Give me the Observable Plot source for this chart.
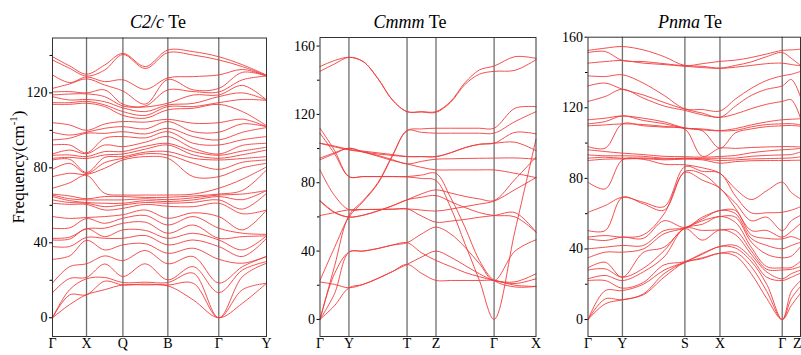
<!DOCTYPE html>
<html><head><meta charset="utf-8">
<script src="https://cdn.jsdelivr.net/npm/d3@7"></script>
<script src="https://cdn.jsdelivr.net/npm/@observablehq/plot@0.6"></script>
<style>
body{margin:0;background:#fff;}
#wrap{position:relative;width:801px;height:355px;font-family:"Liberation Serif","Times New Roman",serif;color:#000;overflow:hidden;}
.panel{position:absolute;top:0;}
.title{position:absolute;top:11px;line-height:22px;font-size:18px;white-space:nowrap;transform:translateX(-50%);}
.ylab{position:absolute;left:18px;top:167px;transform:translate(-50%,-50%) rotate(-90deg);font-size:17px;white-space:nowrap;}
sup{font-size:11px;}
</style></head>
<body>
<div id="wrap">
  <div class="title" style="left:158px"><i>C2/c</i> Te</div>
  <div class="title" style="left:410px"><i>Cmmm</i> Te</div>
  <div class="title" style="left:690px"><i>Pnma</i> Te</div>
  <div class="ylab">Frequency(cm<sup>-1</sup>)</div>
</div>
<script>
// ---------- Panel 1: C2/c Te (frequencies read at each path position, low to high) ----------
const p1Ticks = [0, 0.159, 0.329, 0.539, 0.777, 1];
const p1Labels = ["Γ", "X", "Q", "B", "Γ", "Y"];
const p1Pos = [0, 0.08, 0.159, 0.244, 0.329, 0.434, 0.539, 0.658, 0.777, 0.888, 1];
const p1Gamma = [0,0,0,13.4,18.5,31.2,38,41.5,42.4,47.8,54,61.1,62.9,64.7,65.5,66,69.1,75.3,79.2,84.2,85.1,86.7,87.4,92.2,94.9,99,104.1,113.9,114.8,118,118.9,120.5,122.4,129.6,137.6,139.3];
const p1GX = [7,12.2,15,21,27.3,33,38,42,43,48,53,60.5,61.5,62.5,63.5,65,72,77.1,82.4,84.6,85.6,86.9,89.5,92.2,95.8,97.5,102.9,113.9,114.8,116.2,119.4,120.7,124.8,125.5,133.1,134.4];
const p1X = [12.3,12.3,20.8,21.5,28.8,41.3,42.9,47.5,47.5,52.9,53.5,60.5,61.1,61.5,62.9,63.5,76,76.5,77,77.5,85,86,87.5,88,98.5,99,100,114.5,115.5,116.5,119.5,120,127.5,128.5,129,130];
const p1XQ = [15,19.5,21.5,28.7,33,36.2,42.4,43.3,47.8,50.4,54,57.5,59.3,61.1,62.9,64.7,66.4,79.8,82.8,85.6,86.9,88.7,92.2,95.8,98.4,101.1,103.4,112.7,113.6,115.3,118,121.6,124.2,126,132.2,134.9];
const p1Q = [17.5,17.5,18.8,22,30.5,38.9,42.4,46.9,50.4,53.1,55,58.4,60.2,61.1,62.9,64.7,65.5,84.2,85.1,86,87.4,88.7,91.3,96.7,99.3,102,104.7,108,110,112,113,114,121,127,140.5,141.1];
const p1QB = [17.5,18,19,28.8,35.9,39.5,43.9,46.6,51,54.6,57.5,60.5,61.5,62.5,63.5,64.2,65.5,86,87.5,88.4,90,91.5,93.7,96,98.1,100.8,104.4,106.5,108,110,112.5,113,114,121.9,133,134];
const p1B = [17,17.5,18.8,20.2,28.8,34.4,38.9,42.4,45.1,49.5,53.1,59.5,61.1,62,63,64.3,65.5,85.1,86.9,88.7,92.2,93.1,96.7,99.3,101.1,104.7,105.9,111,112.7,113.6,114.5,121.6,127.2,128,141.5,142.9];
const p1BG = [9.5,18.4,23.8,27.3,32.7,37.1,41.5,45.1,49.5,54,56,59.3,61.6,62.9,64,65,66,75.3,82.4,85.1,86.9,88.7,90.4,93.1,96.7,99.3,103.8,111.8,112.7,114.4,118.9,120.7,121.6,128.7,140.2,142];
const p1GY = [7.8,15,22,25.5,27.3,29.1,32.7,36.2,43.3,45.1,46.9,55.5,58,63,66,68,74,80,83,85,87,89,92,95,99,103.5,106,110,116.5,120,124,127,131,132.5,134,135];
const p1Y = [18.4,18.4,29.1,30,32.7,32.7,42.4,43.7,43.7,44.5,57.5,57.5,66.4,67.9,67.9,78.9,80.5,82.4,84.2,86,89.5,91,93.1,96.7,101.5,102,102,102.5,116,116.2,116.2,129,129,129,129.3,129.5];
const p1Cols = [p1Gamma, p1GX, p1X, p1XQ, p1Q, p1QB, p1B, p1BG, p1Gamma, p1GY, p1Y];

// ---------- Panel 2: Cmmm Te (one array per band) ----------
const p2Ticks = [0, 0.134, 0.403, 0.537, 0.806, 1];
const p2Labels = ["Γ", "Y", "T", "Z", "Γ", "X"];
const p2Pos = [0, 0.067, 0.134, 0.2, 0.268, 0.335, 0.403, 0.47, 0.537, 0.604, 0.671, 0.738, 0.806, 0.903, 1];
const p2Bands = [
  [148, 151.5, 153.4, 150.9, 141, 128.5, 121.6, 121.6, 121.6, 127.5, 138.5, 146, 148.3, 153.8, 152.8],
  [145.2, 149.5, 153.4, 150.9, 141, 128.5, 121.6, 121.4, 121.2, 127, 137.5, 143.5, 145.2, 145.8, 152],
  [111.9, 99, 83.6, 83.6, 83.6, 83.6, 83.6, 84.5, 85.5, 71.5, 54, 34.5, 22.8, 19, 19.3],
  [109, 97, 83.6, 83.6, 83.6, 83.6, 83.4, 82.5, 81.3, 65.7, 44.3, 22.8, 0, 52, 105.5],
  [103.1, 101.5, 99.5, 98.5, 97.5, 96.5, 95.3, 95.3, 95.3, 97.5, 100.5, 102.5, 103.1, 109.5, 108.6],
  [103.1, 101, 99.2, 98, 96.8, 96, 95.3, 95.3, 95.3, 97.5, 100.5, 102.5, 103.1, 103.7, 98.8],
  [94.4, 97.5, 100.2, 98, 96, 93.5, 91, 92.5, 93.8, 94, 94.2, 94.3, 94.4, 94.5, 93.8],
  [93.4, 97, 100.2, 98, 95.5, 93, 91, 89, 87.5, 87.5, 87.5, 87.5, 87.5, 85.5, 83],
  [87.5, 72.5, 64.2, 64.3, 64.4, 64.5, 64.7, 64, 63.4, 64.5, 66, 67.5, 69.2, 76, 83],
  [69.6, 62.8, 59.9, 61, 63.5, 66.5, 70, 73.5, 75.8, 74, 72, 70.5, 69.6, 82, 95],
  [69.2, 62.5, 59.9, 61, 63.5, 66.5, 70, 71.5, 72.5, 69, 65.5, 62.5, 60.8, 60, 51.1],
  [60.8, 62.5, 64.2, 64.3, 64.4, 64.5, 64.7, 60.5, 56.9, 57.5, 58.5, 59.8, 60.8, 62.5, 51.1],
  [0, 31, 60.8, 69.6, 80, 96, 110.5, 111.5, 111.9, 111.9, 111.9, 111.9, 111.9, 123.6, 124.5],
  [22.8, 42, 59.9, 69, 79.5, 95.5, 110.5, 109.5, 109, 109, 109, 109, 109, 115.8, 121.6],
  [0, 26.7, 39.4, 40, 41.5, 43.5, 44.9, 50, 54, 50.1, 42.3, 32.6, 22.8, 40, 46.6],
  [21.9, 20.5, 18.5, 20.5, 24, 28, 32.2, 36.5, 40, 36.5, 31.6, 26.7, 22.8, 22, 26.7],
  [0, 8, 18.5, 20.5, 24, 28, 32.2, 27, 22.8, 22.8, 22.8, 22.8, 22.8, 20, 19.3],
  [0, 15, 39.4, 40, 41.5, 43.5, 44.9, 39, 34.5, 31, 27.5, 25, 22.8, 21, 23.8]
];

// ---------- Panel 3: Pnma Te (frequencies read at each path position, low to high) ----------
const p3Ticks = [0, 0.162, 0.456, 0.621, 0.914, 1];
const p3Labels = ["Γ", "Y", "S", "X", "Γ", "Z"];
const p3Pos = [0, 0.081, 0.162, 0.26, 0.358, 0.456, 0.538, 0.621, 0.694, 0.768, 0.841, 0.914, 0.957, 1];
const p3Gamma = [0,0,0,22.1,23.1,28.1,29.3,35,40.1,45.7,46.7,50.4,60.8,77.8,90.1,91.4,93.3,96.2,98,109.8,110.9,113.2,123.6,132.4,138.1,145.3,151.3,152.5];
const p3GY = [8.9,11.7,16.4,22.1,25,28.7,32.5,38.2,41,44.8,47.6,50.4,64.6,74,90.9,92,92.8,95.2,97.1,110.3,112.2,114.1,126.4,134,137.7,146.2,151.9,153.8];
const p3Y = [11.2,11.2,16.4,17.8,22.1,24,24,38.2,42,46.7,46.7,69.3,69.3,90.5,91,91.4,92.8,94.3,110.9,110.9,115.4,115.4,130.5,130.5,138.7,146.8,146.8,154.7];
const p3YS1 = [14,14.5,20,21,27,29,38,40,42,46,48,65.6,66.5,90.8,91.2,91.6,92.5,93.5,109.8,110.5,112.8,114.1,125.5,127.3,134,145.3,146.2,152.8];
const p3YS2 = [24,26,28,31,35.5,39,41,48.6,50.4,56,59.9,62,64,88,90.5,91,91.4,92.5,109,109.5,111,112,121,123,127,144.5,145,149];
const p3S = [32.4,32.4,32.6,32.8,51.5,51.8,51.8,51.8,52,52.2,83.4,83.9,86.6,87.7,90.9,91.4,91.4,92.3,107.9,108.4,108.4,108.6,118.5,119.2,119.4,143.5,143.8,144];
const p3SX = [34.5,35,37,37.5,45,50.5,54,56,57,58,79,82.5,84,86,90.5,91,91.4,92,92.5,107,107.5,108,116,117,119,142.8,143.5,145];
const p3X = [37.6,37.6,41.4,41.4,50.8,50.8,58.4,58.4,61.8,61.8,74.4,74.4,82.9,82.9,88.6,90.1,91.4,92.4,97.1,97.1,106.9,107.1,114.6,114.6,118.2,142.3,142.5,146.3];
const p3XG1 = [36,38,40.5,42,48,50.5,55,58,60,61.8,63,66,70,74,89.5,90.5,91.5,93,97,105.8,107.2,108.2,116.5,121,125,143,144,147];
const p3XG2 = [26,30,33,35,37,39,41,44,46,48,50.5,56,60.5,68,90,91,92.5,94.5,97.5,108,109.2,110.3,119.5,127,131,144,146,148.5];
const p3XG3 = [12,16,20,24,27,28.5,30,37,42,46,50.5,58,60.5,73,90.1,91.2,93,95.5,97.8,109.3,110.5,112,122,130.5,135.5,145,149,150.5];
const p3GZ = [8,12,16,24,26,28.5,29.5,36,42,47,50,56,62,72,90.2,91.6,93.5,96.5,98,110,111,113.5,124.5,136,139,144.5,148,152.8];
const p3Z = [14.9,18.7,22,26.3,28,30,33,41.3,43.8,45.1,54.5,59,63.9,68.4,90.3,92.2,95,97,97.8,109.5,110.3,113.8,114.1,126.1,140.6,143.8,144,153.2];
const p3Cols = [p3Gamma, p3GY, p3Y, p3YS1, p3YS2, p3S, p3SX, p3X, p3XG1, p3XG2, p3XG3, p3Gamma, p3GZ, p3Z];

// ---------- helpers ----------
function fromColumns(pos, cols) {
  const out = [];
  const n = cols[0].length;
  for (let b = 0; b < n; b++) for (let j = 0; j < pos.length; j++) out.push({k: pos[j], f: cols[j][b], band: b});
  return out;
}
function fromBands(pos, bands) {
  const out = [];
  bands.forEach((arr, b) => arr.forEach((v, j) => out.push({k: pos[j], f: v, band: b})));
  return out;
}
const FONT = '"Liberation Serif","Times New Roman",serif';
const RED = "#f03c3c";

function panel(o) {
  const lab = o.labels.map((t, i) => ({k: o.ticks[i], t, last: i === o.labels.length - 1}));
  const marks = [
    Plot.ruleX(o.ticks.slice(1, -1), {stroke: "#6e6e6e", strokeWidth: 1.3}),
    Plot.line(o.data, {x: "k", y: "f", z: "band", stroke: RED, strokeWidth: 0.9, curve: "catmull-rom"}),
    Plot.frame({stroke: "#333", strokeWidth: 1}),
    Plot.axisY({ticks: o.yTicks, tickSize: 3, tickPadding: 2, fontSize: 14, fontFamily: FONT, label: null}),
    Plot.axisY({ticks: o.yMinor, tickSize: 2.5, tickFormat: () => "", label: null})
  ];
  if (o.endLast) {
    marks.push(Plot.text(lab.filter(d => !d.last), {x: "k", text: "t", frameAnchor: "bottom", dy: 11, fontSize: 14, fontFamily: FONT}));
    marks.push(Plot.text(lab.filter(d => d.last), {x: "k", text: "t", frameAnchor: "bottom", dy: 11, dx: 1, textAnchor: "end", fontSize: 14, fontFamily: FONT}));
  } else {
    marks.push(Plot.text(lab, {x: "k", text: "t", frameAnchor: "bottom", dy: 11, fontSize: 14, fontFamily: FONT}));
  }
  const svg = Plot.plot({
    width: o.width, height: 355,
    marginLeft: o.mL, marginRight: o.mR, marginTop: o.mT, marginBottom: 19,
    x: {domain: [0, 1], axis: null},
    y: {domain: o.yDomain, axis: null},
    style: {fontFamily: FONT, background: "transparent", overflow: "visible"},
    marks
  });
  svg.classList.add("panel");
  svg.style.left = o.left + "px";
  svg.style.position = "absolute";
  svg.style.top = "0px";
  document.getElementById("wrap").appendChild(svg);
}

panel({left: 0, width: 268, mL: 52, mR: 2, mT: 37.5, yDomain: [-10, 149.3],
  yTicks: [0, 40, 80, 120], yMinor: [20, 60, 100, 140],
  ticks: p1Ticks, labels: p1Labels, data: fromColumns(p1Pos, p1Cols)});
panel({left: 272, width: 266, mL: 47.5, mR: 2.5, mT: 37, yDomain: [-10, 165],
  yTicks: [0, 40, 80, 120, 160], yMinor: [20, 60, 100, 140],
  ticks: p2Ticks, labels: p2Labels, data: fromBands(p2Pos, p2Bands)});
panel({left: 540, width: 261, mL: 47.5, mR: 1, mT: 36.7, yDomain: [-9.6, 160],
  yTicks: [0, 40, 80, 120, 160], yMinor: [20, 60, 100, 140],
  ticks: p3Ticks, labels: p3Labels, data: fromColumns(p3Pos, p3Cols), endLast: true});
</script>
</body></html>
